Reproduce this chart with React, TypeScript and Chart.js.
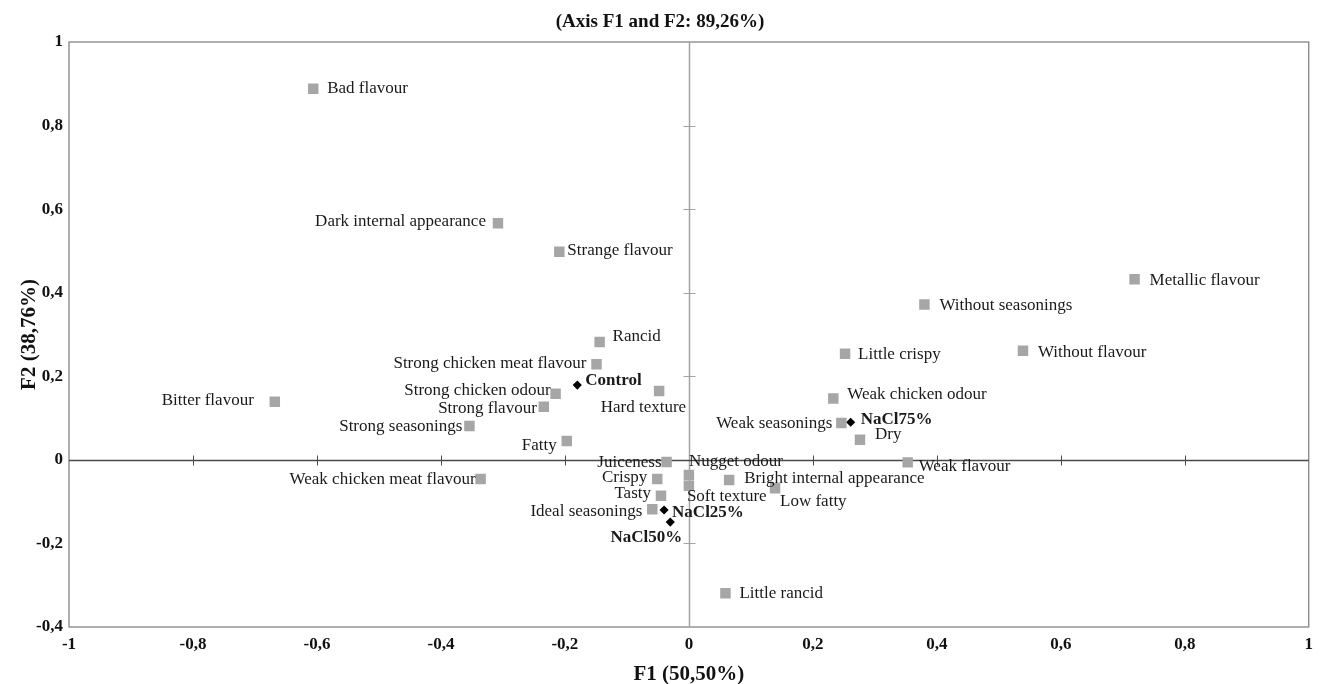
import React, { useEffect, useRef } from 'react';
import { Chart, registerables } from 'chart.js';

Chart.register(...registerables);

// ---- Data ----
const attributeNames = [
  'Bad flavour',
  'Dark internal appearance',
  'Strange flavour',
  'Rancid',
  'Strong chicken meat flavour',
  'Hard texture',
  'Strong chicken odour',
  'Strong flavour',
  'Strong seasonings',
  'Bitter flavour',
  'Fatty',
  'Weak chicken meat flavour',
  'Juiceness',
  'Nugget odour',
  'Crispy',
  'Soft texture',
  'Bright internal appearance',
  'Low fatty',
  'Tasty',
  'Ideal seasonings',
  'Little rancid',
  'Weak flavour',
  'Dry',
  'Weak seasonings',
  'Weak chicken odour',
  'Little crispy',
  'Without seasonings',
  'Metallic flavour',
  'Without flavour',
];
const attributeF1 = [
  -0.606, -0.308, -0.209, -0.144, -0.149, -0.048, -0.215, -0.234, -0.354, -0.668,
  -0.197, -0.336, -0.036, 0.0, -0.051, 0.0, 0.065, 0.139, -0.045, -0.059,
  0.059, 0.353, 0.276, 0.246, 0.233, 0.252, 0.38, 0.719, 0.539,
];
const attributeF2 = [
  0.888, 0.566, 0.498, 0.282, 0.229, 0.165, 0.158, 0.127, 0.081, 0.139,
  0.045, -0.046, -0.005, -0.036, -0.046, -0.062, -0.048, -0.068, -0.086, -0.118,
  -0.319, -0.006, 0.048, 0.088, 0.147, 0.254, 0.372, 0.432, 0.261,
];

const sampleNames = ['Control', 'NaCl25%', 'NaCl50%', 'NaCl75%'];
const sampleF1 = [-0.18, -0.04, -0.03, 0.261];
const sampleF2 = [0.179, -0.12, -0.149, 0.09];

const chartTitle = '(Axis F1 and F2: 89,26%)';
const xAxisTitle = 'F1 (50,50%)';
const yAxisTitle = 'F2 (38,76%)';

// ---- Label placement (style only): [dx, dy, textAlign] ----
type Place = [number, number, CanvasTextAlign];
const attributeLabelPlace: Place[] = [
  [14, 0, 'left'],
  [-12, -2, 'right'],
  [8, -1, 'left'],
  [13, -5, 'left'],
  [-10, -1, 'right'],
  [27, 17, 'right'],
  [-5, -3, 'right'],
  [-7, 2, 'right'],
  [-7, 1, 'right'],
  [-21, -1, 'right'],
  [-10, 4, 'right'],
  [-5, 0, 'right'],
  [-5, 1, 'right'],
  [0, -13, 'left'],
  [-10, -2, 'right'],
  [-2, 11, 'left'],
  [15, -1, 'left'],
  [5, 13, 'left'],
  [-10, -2, 'right'],
  [-10, 2, 'right'],
  [14, 0, 'left'],
  [11, 4, 'left'],
  [15, -5, 'left'],
  [-9, 0, 'right'],
  [14, -4, 'left'],
  [13, 1, 'left'],
  [15, 1, 'left'],
  [15, 1, 'left'],
  [15, 2, 'left'],
];
const sampleLabelPlace: Place[] = [
  [8, -4, 'left'],
  [8, 3, 'left'],
  [12, 15, 'right'],
  [10, -3, 'left'],
];

const SERIF = '"Liberation Serif", "Times New Roman", serif';

const fmtTick = (value: number | string) => {
  const v = Math.round(Number(value) * 10) / 10;
  if (Number.isInteger(v)) return String(v === 0 ? 0 : v);
  return v.toFixed(1).replace('.', ',');
};

const overlayPlugin = {
  id: 'overlay',
  beforeDatasetsDraw(chart: any) {
    const { ctx, chartArea: a, scales } = chart;
    const xs = scales.x;
    const ys = scales.y;
    ctx.save();
    // frame
    ctx.strokeStyle = '#858585';
    ctx.lineWidth = 1.3;
    ctx.strokeRect(a.left, a.top, a.right - a.left, a.bottom - a.top);

    const x0 = Math.round(xs.getPixelForValue(0)) + 0.5;
    const y0 = Math.round(ys.getPixelForValue(0)) + 0.5;

    // vertical zero axis
    ctx.strokeStyle = '#a3a3a3';
    ctx.lineWidth = 1.5;
    ctx.beginPath();
    ctx.moveTo(x0, a.top);
    ctx.lineTo(x0, a.bottom);
    ctx.stroke();
    ctx.lineWidth = 1;
    ys.ticks.forEach((t: any) => {
      const v = Math.round(t.value * 10) / 10;
      if (v === 0 || v <= -0.4 || v >= 1) return;
      const py = Math.round(ys.getPixelForValue(t.value)) + 0.5;
      ctx.beginPath();
      ctx.moveTo(x0 - 6, py);
      ctx.lineTo(x0 + 6, py);
      ctx.stroke();
    });

    // horizontal zero axis
    ctx.strokeStyle = '#4a4a4a';
    ctx.lineWidth = 1.3;
    ctx.beginPath();
    ctx.moveTo(a.left, y0);
    ctx.lineTo(a.right, y0);
    ctx.stroke();
    ctx.lineWidth = 1;
    xs.ticks.forEach((t: any) => {
      const v = Math.round(t.value * 10) / 10;
      if (v === 0 || v <= -1 || v >= 1) return;
      const px = Math.round(xs.getPixelForValue(t.value)) + 0.5;
      ctx.beginPath();
      ctx.moveTo(px, y0 - 5);
      ctx.lineTo(px, y0 + 5);
      ctx.stroke();
    });
    ctx.restore();
  },
  afterDatasetsDraw(chart: any) {
    const { ctx } = chart;
    ctx.save();
    ctx.textBaseline = 'middle';
    ctx.fillStyle = '#1a1a1a';
    const drawLabels = (dsIndex: number, names: string[], places: Place[], bold: boolean) => {
      const meta = chart.getDatasetMeta(dsIndex);
      ctx.font = `${bold ? 'bold ' : ''}17px ${SERIF}`;
      meta.data.forEach((el: any, i: number) => {
        const [dx, dy, align] = places[i];
        ctx.textAlign = align;
        ctx.fillText(names[i], el.x + dx, el.y + dy);
      });
    };
    drawLabels(0, attributeNames, attributeLabelPlace, false);
    drawLabels(1, sampleNames, sampleLabelPlace, true);
    ctx.restore();
  },
  afterDraw(chart: any) {
    const { ctx, chartArea: a, width } = chart;
    ctx.save();
    ctx.fillStyle = '#111';
    ctx.textBaseline = 'alphabetic';
    ctx.textAlign = 'center';
    ctx.font = `bold 19px ${SERIF}`;
    ctx.fillText(chartTitle, width / 2, 27);
    ctx.font = `bold 21px ${SERIF}`;
    ctx.fillText(xAxisTitle, (a.left + a.right) / 2, 680);
    ctx.translate(35, (a.top + a.bottom) / 2);
    ctx.rotate(-Math.PI / 2);
    ctx.fillText(yAxisTitle, 0, 0);
    ctx.restore();
  },
};

export default function App() {
  const canvasRef = useRef<HTMLCanvasElement | null>(null);

  useEffect(() => {
    document.body.style.margin = '0';
    const canvas = canvasRef.current;
    if (!canvas) return;
    const chart = new Chart(canvas, {
      type: 'scatter',
      data: {
        datasets: [
          {
            label: 'Attributes',
            data: attributeF1.map((x, i) => ({ x, y: attributeF2[i] })),
            pointStyle: 'rect',
            pointRadius: 7.4,
            pointHoverRadius: 7.4,
            backgroundColor: '#a6a6a6',
            borderWidth: 0,
          },
          {
            label: 'Samples',
            data: sampleF1.map((x, i) => ({ x, y: sampleF2[i] })),
            pointStyle: 'rectRot',
            pointRadius: 4.6,
            pointHoverRadius: 4.6,
            backgroundColor: '#000',
            borderWidth: 0,
          },
        ],
      },
      options: {
        responsive: false,
        animation: false,
        events: [],
        layout: { padding: { top: 42, right: 10, left: 0, bottom: 0 } },
        plugins: {
          legend: { display: false },
          tooltip: { enabled: false },
          title: { display: false },
        },
        scales: {
          x: {
            type: 'linear',
            min: -1,
            max: 1,
            grid: { display: false, drawTicks: false },
            border: { display: false },
            ticks: {
              stepSize: 0.2,
              autoSkip: false,
              maxRotation: 0,
              padding: 7,
              color: '#111',
              font: { family: SERIF, size: 17, weight: 'bold' },
              callback: (v: any) => fmtTick(v),
            },
            afterFit: (s: any) => {
              s.height = 57;
            },
          },
          y: {
            type: 'linear',
            min: -0.4,
            max: 1,
            grid: { display: false, drawTicks: false },
            border: { display: false },
            ticks: {
              stepSize: 0.2,
              autoSkip: false,
              padding: 6,
              color: '#111',
              font: { family: SERIF, size: 17, weight: 'bold' },
              callback: (v: any) => fmtTick(v),
            },
            afterFit: (s: any) => {
              s.width = 69;
            },
          },
        },
      } as any,
      plugins: [overlayPlugin],
    });
    return () => chart.destroy();
  }, []);

  return (
    <div style={{ width: 1320, height: 684, background: '#fff' }}>
      <canvas ref={canvasRef} width={1320} height={684} style={{ display: 'block' }} />
    </div>
  );
}
